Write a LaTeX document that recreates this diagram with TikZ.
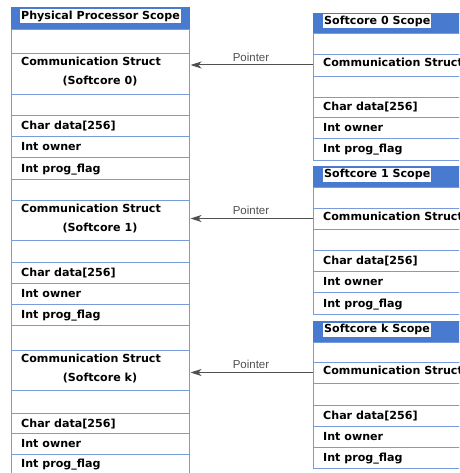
\documentclass[tikz,border=0pt]{standalone}
\usepackage{fontspec}
\setmainfont{DejaVu Sans}
\newfontfamily\ptrfont{Liberation Sans}
\usetikzlibrary{arrows.meta}
\definecolor{hdrblue}{RGB}{72,122,208}
\definecolor{gridblue}{RGB}{120,155,220}
\definecolor{ptrgray}{RGB}{80,80,80}

% one field of a memory scope: name, width, top-left corner, height
\newcommand\fld[4]{\node[cell=#2, minimum height=#4] (#1) at #3 {};}
% left-aligned field text: name, field node, text
\newcommand\ftxt[3]{\node[txt] (#1) at ([xshift=10pt]#2.west) {#3};}

\begin{document}
\begin{tikzpicture}[x=1pt,y=-1pt,
  cell/.style={draw=gridblue, line width=0.9pt, inner sep=0pt, outer sep=0pt,
    anchor=north west, minimum width=#1},
  hdr/.style={fill=hdrblue, draw=hdrblue},
  txt/.style={font=\fontsize{11.1}{13}\selectfont\bfseries, text height=8pt,
    text depth=0pt, inner sep=0pt, anchor=west},
  hdrtxt/.style={txt, fill=white, text height=9pt, text depth=2.7pt,
    inner xsep=1pt, inner ysep=1pt},
  ptr/.style={draw=ptrgray, line width=1pt,
    -{Stealth[length=11pt,width=7pt,inset=3pt]}, shorten >=1.5pt},
  ptrlbl/.style={font=\ptrfont\fontsize{11.5}{13}\selectfont, text=ptrgray}
]
\clip (0,0) rectangle (459,473);

% ---------------- physical processor scope ----------------
\fld{lh}{178pt}{(11,7)}{22pt}
\node[cell=178pt, minimum height=22pt, hdr] at (lh.north west) {};
\fld{l1}{178pt}{(11,29)}{24pt}
\fld{lc0}{178pt}{(11,53)}{41pt}
\fld{l3}{178pt}{(11,94)}{21pt}
\fld{l4}{178pt}{(11,115)}{21pt}
\fld{l5}{178pt}{(11,136)}{21pt}
\fld{l6}{178pt}{(11,157)}{22pt}
\fld{l7}{178pt}{(11,179)}{21pt}
\fld{lc1}{178pt}{(11,200)}{40pt}
\fld{l9}{178pt}{(11,240)}{22pt}
\fld{l10}{178pt}{(11,262)}{21pt}
\fld{l11}{178pt}{(11,283)}{21pt}
\fld{l12}{178pt}{(11,304)}{21pt}
\fld{l13}{178pt}{(11,325)}{25pt}
\fld{lck}{178pt}{(11,350)}{40pt}
\fld{l15}{178pt}{(11,390)}{23pt}
\fld{l16}{178pt}{(11,413)}{20pt}
\fld{l17}{178pt}{(11,433)}{21pt}
\fld{l18}{178pt}{(11,454)}{30pt}

\node[hdrtxt] (lht) at ([xshift=9pt,yshift=2pt]lh.west) {Physical Processor Scope};
\node[txt] (lc0a) at ([xshift=10pt,yshift=11.5pt]lc0.west) {Communication Struct};
\node[txt, anchor=center] (lc0b) at ([yshift=-7.5pt]lc0.center) {(Softcore 0)};
\ftxt{l4t}{l4}{Char data[256]}
\ftxt{l5t}{l5}{Int owner}
\ftxt{l6t}{l6}{Int prog\_flag}
\node[txt] (lc1a) at ([xshift=10pt,yshift=11.5pt]lc1.west) {Communication Struct};
\node[txt, anchor=center] (lc1b) at ([yshift=-7.5pt]lc1.center) {(Softcore 1)};
\ftxt{l10t}{l10}{Char data[256]}
\ftxt{l11t}{l11}{Int owner}
\ftxt{l12t}{l12}{Int prog\_flag}
\node[txt] (lcka) at ([xshift=10pt,yshift=11.5pt]lck.west) {Communication Struct};
\node[txt, anchor=center] (lckb) at ([yshift=-7.5pt]lck.center) {(Softcore k)};
\ftxt{l16t}{l16}{Char data[256]}
\ftxt{l17t}{l17}{Int owner}
\node[txt] (l18t) at (21,463) {Int prog\_flag};

% ---------------- softcore 0 scope ----------------
\fld{r0h}{160pt}{(313,13)}{20pt}
\node[cell=160pt, minimum height=20pt, hdr] at (r0h.north west) {};
\fld{r0a}{160pt}{(313,33)}{21pt}
\fld{r0c}{160pt}{(313,54)}{22pt}
\fld{r0b}{160pt}{(313,76)}{21pt}
\fld{r0d}{160pt}{(313,97)}{20pt}
\fld{r0e}{160pt}{(313,117)}{21pt}
\fld{r0f}{160pt}{(313,138)}{22pt}
\node[hdrtxt] (r0ht) at ([xshift=10pt,yshift=1.7pt]r0h.west) {Softcore 0 Scope};
\node[txt] (r0ct) at ([xshift=10pt,yshift=2pt]r0c.west) {Communication Struct};
\ftxt{r0dt}{r0d}{Char data[256]}
\ftxt{r0et}{r0e}{Int owner}
\ftxt{r0ft}{r0f}{Int prog\_flag}

% ---------------- softcore 1 scope ----------------
\fld{r1h}{160pt}{(313,166)}{21pt}
\node[cell=160pt, minimum height=21pt, hdr] at (r1h.north west) {};
\fld{r1a}{160pt}{(313,187)}{21pt}
\fld{r1c}{160pt}{(313,208)}{21pt}
\fld{r1b}{160pt}{(313,229)}{21pt}
\fld{r1d}{160pt}{(313,250)}{21pt}
\fld{r1e}{160pt}{(313,271)}{21pt}
\fld{r1f}{160pt}{(313,292)}{22pt}
\node[hdrtxt] (r1ht) at ([xshift=10pt,yshift=1.7pt]r1h.west) {Softcore 1 Scope};
\node[txt] (r1ct) at ([xshift=10pt,yshift=2pt]r1c.west) {Communication Struct};
\ftxt{r1dt}{r1d}{Char data[256]}
\ftxt{r1et}{r1e}{Int owner}
\ftxt{r1ft}{r1f}{Int prog\_flag}

% ---------------- softcore k scope ----------------
\fld{rkh}{160pt}{(313,321)}{21pt}
\node[cell=160pt, minimum height=21pt, hdr] at (rkh.north west) {};
\fld{rka}{160pt}{(313,342)}{20pt}
\fld{rkc}{160pt}{(313,362)}{21pt}
\fld{rkb}{160pt}{(313,383)}{22pt}
\fld{rkd}{160pt}{(313,405)}{21pt}
\fld{rke}{160pt}{(313,426)}{21pt}
\fld{rkf}{160pt}{(313,447)}{21pt}
\node[hdrtxt] (rkht) at ([xshift=10pt,yshift=1.7pt]rkh.west) {Softcore k Scope};
\node[txt] (rkct) at ([xshift=10pt,yshift=2pt]rkc.west) {Communication Struct};
\ftxt{rkdt}{rkd}{Char data[256]}
\ftxt{rket}{rke}{Int owner}
\ftxt{rkft}{rkf}{Int prog\_flag}

% ---------------- pointers ----------------
\draw[ptr] (r0c.west) -- node[ptrlbl, above] (p0) {Pointer} (r0c.west -| lc0.east);
\draw[ptr] (r1c.west) -- node[ptrlbl, above] (p1) {Pointer} (r1c.west -| lc1.east);
\draw[ptr] (rkc.west) -- node[ptrlbl, above] (pk) {Pointer} (rkc.west -| lck.east);
\end{tikzpicture}
\end{document}
